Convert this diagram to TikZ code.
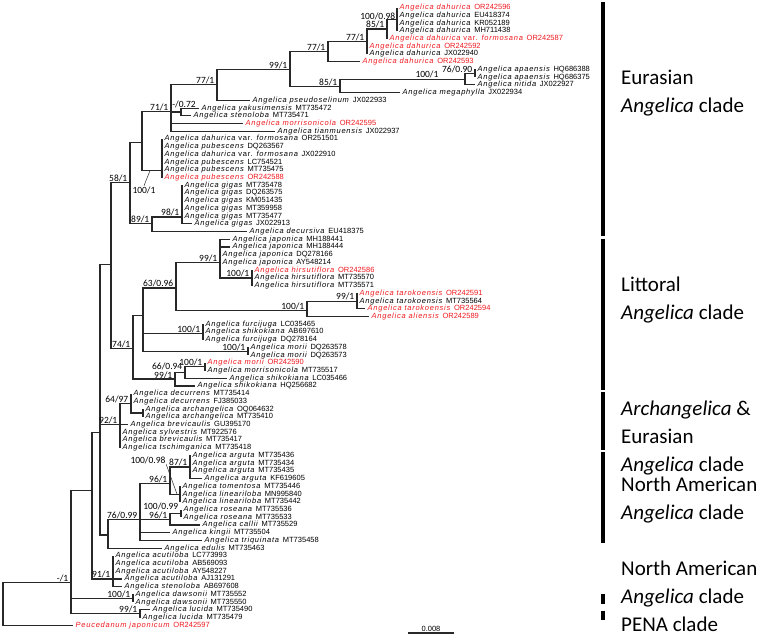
\documentclass[tikz,border=0pt]{standalone}
\usepackage{fontspec}
\setmainfont{Liberation Sans}
\newfontfamily\spfont{Liberation Sans}[LetterSpace=10]
\newfontfamily\bsfont{Carlito}
\usetikzlibrary{positioning, calc}
\definecolor{newseq}{RGB}{240,25,30}
\definecolor{branchgray}{RGB}{40,40,40}
\newcommand{\taxon}[3][Angelica]{{\spfont\itshape #1 #2}\hspace{0.5em}#3}
\tikzset{taxon label/.style={anchor=west, inner xsep=2.5pt, inner ysep=0pt, font=\fontsize{7.5}{8}\selectfont}}
\tikzset{new taxon/.style={taxon label, text=newseq}}
\tikzset{support/.style={anchor=south east, inner sep=0.5pt, xshift=-2pt, font=\bsfont\fontsize{9.5}{10}\selectfont}}
\tikzset{branch/.style={draw=branchgray, line width=1.15pt}}
\tikzset{clade bar/.style={draw=black, line width=3.5pt}}
\tikzset{clade name/.style={anchor=west, align=left, inner sep=0pt, font=\bsfont\fontsize{21}{28}\selectfont}}

\begin{document}
\begin{tikzpicture}[x=1pt, y=-7.72pt]
\useasboundingbox (0,0) rectangle (767,82.38);

% taxa, one row each
\node[new taxon] (t1) at (397,1) {\taxon{dahurica}{OR242596}};
\node[taxon label] (t2) at (397,2) {\taxon{dahurica}{EU418374}};
\node[taxon label] (t3) at (397,3) {\taxon{dahurica}{KR052189}};
\node[taxon label] (t4) at (397,4) {\taxon{dahurica}{MH711438}};
\node[new taxon] (t5) at (387,5) {\taxon{dahurica {\upshape var.} formosana}{OR242587}};
\node[new taxon] (t6) at (367,6) {\taxon{dahurica}{OR242592}};
\node[taxon label] (t7) at (367,7) {\taxon{dahurica}{JX022940}};
\node[new taxon] (t8) at (360,8) {\taxon{dahurica}{OR242593}};
\node[taxon label] (t9) at (475,9) {\taxon{apaensis}{HQ686388}};
\node[taxon label] (t10) at (475,10) {\taxon{apaensis}{HQ686375}};
\node[taxon label] (t11) at (475,11) {\taxon{nitida}{JX022927}};
\node[taxon label] (t12) at (400,12) {\taxon{megaphylla}{JX022934}};
\node[taxon label] (t13) at (250,13) {\taxon{pseudoselinum}{JX022933}};
\node[taxon label] (t14) at (199,14) {\taxon{yakusimensis}{MT735472}};
\node[taxon label] (t15) at (191,15) {\taxon{stenoloba}{MT735471}};
\node[new taxon] (t16) at (243,16) {\taxon{morrisonicola}{OR242595}};
\node[taxon label] (t17) at (275,17) {\taxon{tianmuensis}{JX022937}};
\node[taxon label] (t18) at (162,18) {\taxon{dahurica {\upshape var.} formosana}{OR251501}};
\node[taxon label] (t19) at (162,19) {\taxon{pubescens}{DQ263567}};
\node[taxon label] (t20) at (162,20) {\taxon{dahurica {\upshape var.} formosana}{JX022910}};
\node[taxon label] (t21) at (162,21) {\taxon{pubescens}{LC754521}};
\node[taxon label] (t22) at (162,22) {\taxon{pubescens}{MT735475}};
\node[new taxon] (t23) at (162,23) {\taxon{pubescens}{OR242588}};
\node[taxon label] (t24) at (182,24) {\taxon{gigas}{MT735478}};
\node[taxon label] (t25) at (182,25) {\taxon{gigas}{DQ263575}};
\node[taxon label] (t26) at (182,26) {\taxon{gigas}{KM051435}};
\node[taxon label] (t27) at (182,27) {\taxon{gigas}{MT359958}};
\node[taxon label] (t28) at (182,28) {\taxon{gigas}{MT735477}};
\node[taxon label] (t29) at (192,29) {\taxon{gigas}{JX022913}};
\node[taxon label] (t30) at (247,30) {\taxon{decursiva}{EU418375}};
\node[taxon label] (t31) at (230,31) {\taxon{japonica}{MH188441}};
\node[taxon label] (t32) at (230,32) {\taxon{japonica}{MH188444}};
\node[taxon label] (t33) at (220,33) {\taxon{japonica}{DQ278166}};
\node[taxon label] (t34) at (220,34) {\taxon{japonica}{AY548214}};
\node[new taxon] (t35) at (252,35) {\taxon{hirsutiflora}{OR242586}};
\node[taxon label] (t36) at (252,36) {\taxon{hirsutiflora}{MT735570}};
\node[taxon label] (t37) at (252,37) {\taxon{hirsutiflora}{MT735571}};
\node[new taxon] (t38) at (357,38) {\taxon{tarokoensis}{OR242591}};
\node[taxon label] (t39) at (357,39) {\taxon{tarokoensis}{MT735564}};
\node[new taxon] (t40) at (365,40) {\taxon{tarokoensis}{OR242594}};
\node[new taxon] (t41) at (369,41) {\taxon{aliensis}{OR242589}};
\node[taxon label] (t42) at (203,42) {\taxon{furcijuga}{LC035465}};
\node[taxon label] (t43) at (203,43) {\taxon{shikokiana}{AB697610}};
\node[taxon label] (t44) at (203,44) {\taxon{furcijuga}{DQ278164}};
\node[taxon label] (t45) at (248,45) {\taxon{morii}{DQ263578}};
\node[taxon label] (t46) at (248,46) {\taxon{morii}{DQ263573}};
\node[new taxon] (t47) at (205,47) {\taxon{morii}{OR242590}};
\node[taxon label] (t48) at (205,48) {\taxon{morrisonicola}{MT735517}};
\node[taxon label] (t49) at (227,49) {\taxon{shikokiana}{LC035466}};
\node[taxon label] (t50) at (195,50) {\taxon{shikokiana}{HQ256682}};
\node[taxon label] (t51) at (131,51) {\taxon{decurrens}{MT735414}};
\node[taxon label] (t52) at (131,52) {\taxon{decurrens}{FJ385033}};
\node[taxon label] (t53) at (143,53) {\taxon{archangelica}{OQ064632}};
\node[taxon label] (t54) at (143,54) {\taxon{archangelica}{MT735410}};
\node[taxon label] (t55) at (128,55) {\taxon{brevicaulis}{GU395170}};
\node[taxon label] (t56) at (120,56) {\taxon{sylvestris}{MT922576}};
\node[taxon label] (t57) at (120,57) {\taxon{brevicaulis}{MT735417}};
\node[taxon label] (t58) at (120,58) {\taxon{tschimganica}{MT735418}};
\node[taxon label] (t59) at (190,59) {\taxon{arguta}{MT735436}};
\node[taxon label] (t60) at (190,60) {\taxon{arguta}{MT735434}};
\node[taxon label] (t61) at (190,61) {\taxon{arguta}{MT735435}};
\node[taxon label] (t62) at (202,62) {\taxon{arguta}{KF619605}};
\node[taxon label] (t63) at (180,63) {\taxon{tomentosa}{MT735446}};
\node[taxon label] (t64) at (180,64) {\taxon{lineariloba}{MN995840}};
\node[taxon label] (t65) at (180,65) {\taxon{lineariloba}{MT735442}};
\node[taxon label] (t66) at (181,66) {\taxon{roseana}{MT735536}};
\node[taxon label] (t67) at (181,67) {\taxon{roseana}{MT735533}};
\node[taxon label] (t68) at (200,68) {\taxon{callii}{MT735529}};
\node[taxon label] (t69) at (170,69) {\taxon{kingii}{MT735504}};
\node[taxon label] (t70) at (202,70) {\taxon{triquinata}{MT735458}};
\node[taxon label] (t71) at (162,71) {\taxon{edulis}{MT735463}};
\node[taxon label] (t72) at (113,72) {\taxon{acutiloba}{LC773993}};
\node[taxon label] (t73) at (113,73) {\taxon{acutiloba}{AB569093}};
\node[taxon label] (t74) at (113,74) {\taxon{acutiloba}{AY548227}};
\node[taxon label] (t75) at (122,75) {\taxon{acutiloba}{AJ131291}};
\node[taxon label] (t76) at (122,76) {\taxon{stenoloba}{AB697608}};
\node[taxon label] (t77) at (133,77) {\taxon{dawsonii}{MT735552}};
\node[taxon label] (t78) at (133,78) {\taxon{dawsonii}{MT735550}};
\node[taxon label] (t79) at (150,79) {\taxon{lucida}{MT735490}};
\node[taxon label] (t80) at (140,80) {\taxon{lucida}{MT735479}};
\node[new taxon] (t81) at (73,81) {\taxon[Peucedanum]{japonicum}{OR242597}};

% inner nodes
\coordinate (dahA) at (397,2.5);
\coordinate (dahB) at (387,3.75);
\coordinate (dahC) at (367,5.4);
\coordinate (dahD) at (328,6.7);
\coordinate (apaA) at (475,9.5);
\coordinate (apaB) at (465,10.25);
\coordinate (apaC) at (340,11.2);
\coordinate (dahE) at (290,9);
\coordinate (dahF) at (217,11);
\coordinate (yak) at (181,14.5);
\coordinate (eurA) at (171,14.4);
\coordinate (pub) at (162,22.1);
\coordinate (eurB) at (142,18.5);
\coordinate (gig) at (182,28.1);
\coordinate (gigB) at (152,28.9);
\coordinate (eurasian) at (130,23.6);
\coordinate (hir) at (252,36);
\coordinate (jap) at (220,34);
\coordinate (tar) at (357,39);
\coordinate (tarB) at (307,40.2);
\coordinate (litA) at (176,37.3);
\coordinate (furc) at (203,43.2);
\coordinate (mor) at (248,45.5);
\coordinate (litB) at (143,40.9);
\coordinate (morB) at (205,47.5);
\coordinate (shiA) at (185,48.3);
\coordinate (shiB) at (175,49.1);
\coordinate (littoral) at (133,45.1);
\coordinate (asia) at (111,34.3);
\coordinate (arch) at (143,53.5);
\coordinate (dec) at (131,52.3);
\coordinate (archangelica) at (120,55);
\coordinate (arg) at (190,60.5);
\coordinate (lin) at (180,64);
\coordinate (argB) at (170,62.6);
\coordinate (ros) at (181,66.5);
\coordinate (rosB) at (170,67.3);
\coordinate (namerica) at (140,67.3);
\coordinate (edu) at (108,69.3);
\coordinate (core) at (100,56);
\coordinate (acu) at (113,75);
\coordinate (coreB) at (92,63.5);
\coordinate (daw) at (133,77.5);
\coordinate (luc) at (140,79.5);
\coordinate (angelica) at (71,75.5);
\coordinate (root) at (3,78.25);

% branches
\draw[branch] (dahA) |- (t1) (dahA) |- (t2) (dahA) |- (t3) (dahA) |- (t4);
\draw[branch] (dahB) |- (dahA) (dahB) |- (t5);
\draw[branch] (dahC) |- (dahB) (dahC) |- (t6) (dahC) |- (t7);
\draw[branch] (dahD) |- (dahC) (dahD) |- (t8);
\draw[branch] (apaA) |- (t9) (apaA) |- (t10);
\draw[branch] (apaB) |- (apaA) (apaB) |- (t11);
\draw[branch] (apaC) |- (apaB) (apaC) |- (t12);
\draw[branch] (dahE) |- (dahD) (dahE) |- (apaC);
\draw[branch] (dahF) |- (dahE) (dahF) |- (t13);
\draw[branch] (yak) |- (t14) (yak) |- (t15);
\draw[branch] (eurA) |- (dahF) (eurA) |- (yak) (eurA) |- (t16) (eurA) |- (t17);
\draw[branch] (pub) |- (t18) (pub) |- (t23);
\draw[branch] (eurB) |- (eurA) (eurB) |- (pub);
\draw[branch] (gig) |- (t24) (gig) |- (t28) (gig) |- (t29);
\draw[branch] (gigB) |- (gig) (gigB) |- (t30);
\draw[branch] (eurasian) |- (eurB) (eurasian) |- (gigB);
\draw[branch] (hir) |- (t35) (hir) |- (t37);
\draw[branch] (jap) |- (t31) (jap) |- (t32) (jap) |- (t34) (jap) |- (hir);
\draw[branch] (tar) |- (t38) (tar) |- (t39) (tar) |- (t40);
\draw[branch] (tarB) |- (tar) (tarB) |- (t41);
\draw[branch] (litA) |- (jap) (litA) |- (tarB);
\draw[branch] (furc) |- (t42) (furc) |- (t44);
\draw[branch] (mor) |- (t45) (mor) |- (t46);
\draw[branch] (litB) |- (litA) (litB) |- (furc) (litB) |- (mor);
\draw[branch] (morB) |- (t47) (morB) |- (t48);
\draw[branch] (shiA) |- (morB) (shiA) |- (t49);
\draw[branch] (shiB) |- (shiA) (shiB) |- (t50);
\draw[branch] (littoral) |- (litB) (littoral) |- (shiB);
\draw[branch] (asia) |- (eurasian) (asia) |- (littoral);
\draw[branch] (arch) |- (t53) (arch) |- (t54);
\draw[branch] (dec) |- (t51) (dec) |- (arch);
\draw[branch] (archangelica) |- (dec) (archangelica) |- (t55) (archangelica) |- (t58);
\draw[branch] (arg) |- (t59) (arg) |- (t62);
\draw[branch] (lin) |- (t63) (lin) |- (t65);
\draw[branch] (argB) |- (arg) (argB) |- (lin);
\draw[branch] (ros) |- (t66) (ros) |- (t67);
\draw[branch] (rosB) |- (ros) (rosB) |- (t68);
\draw[branch] (namerica) |- (argB) (namerica) |- (rosB) (namerica) |- (t69) (namerica) |- (t70);
\draw[branch] (edu) |- (namerica) (edu) |- (t71);
\draw[branch] (core) |- (asia) (core) |- (archangelica) (core) |- (edu);
\draw[branch] (acu) |- (t72) (acu) |- (t75) (acu) |- (t76);
\draw[branch] (coreB) |- (core) (coreB) |- (acu);
\draw[branch] (daw) |- (t77) (daw) |- (t78);
\draw[branch] (luc) |- (t79) (luc) |- (t80);
\draw[branch] (angelica) |- (coreB) (angelica) |- (daw) (angelica) |- (luc);
\draw[branch] (root) |- (angelica) (root) |- (t81);

% support values
\node[support, anchor=east] (sdahA) at (398,2.1) {100/0.98};
\node[support] (sdahB) at (dahB) {85/1};
\node[support] (sdahC) at (dahC) {77/1};
\node[support] (sdahD) at (dahD) {77/1};
\node[support] (sapaA) at (apaA) {76/0.90};
\node[support, anchor=center] (sapaB) at (429,9.7) {100/1};
\node[support] (sapaC) at (apaC) {85/1};
\node[support] (sdahE) at (dahE) {99/1};
\node[support] (sdahF) at (dahF) {77/1};
\node[support, anchor=center] (syak) at (186,13.5) {-/0.72};
\node[support] (seurA) at (eurA) {71/1};
\node[support, anchor=center] (spub) at (146,24.6) {100/1};
\draw[branchgray, line width=0.5pt] (spub.north) -- ([xshift=-12pt]pub);
\node[support] (seurasian) at (eurasian) {58/1};
\node[support] (sgig) at (gig) {98/1};
\node[support] (sgigB) at (gigB) {89/1};
\node[support] (sjap) at (jap) {99/1};
\node[support] (shir) at (hir) {100/1};
\node[support] (slitA) at (litA) {63/0.96};
\node[support] (star) at (tar) {99/1};
\node[support] (starB) at (tarB) {100/1};
\node[support] (sfurc) at (furc) {100/1};
\node[support] (smor) at (mor) {100/1};
\node[support] (slittoral) at (littoral) {74/1};
\node[support] (smorB) at (morB) {100/1};
\node[support, yshift=2pt] (sshiA) at (shiA) {66/0.94};
\node[support, yshift=-0.5pt] (sshiB) at (shiB) {99/1};
\node[support] (sdec) at (dec) {64/97};
\node[support] (sarchangelica) at (archangelica) {92/1};
\node[support, anchor=center] (slin) at (150,59.6) {100/0.98};
\draw[branchgray, line width=0.5pt] (slin.south east) -- ([xshift=-3pt]lin);
\node[support] (sarg) at (arg) {87/1};
\node[support] (sargB) at (argB) {96/1};
\node[support, yshift=2.5pt] (sros) at (ros) {100/0.99};
\node[support, yshift=-0.5pt] (srosB) at (rosB) {96/1};
\node[support] (snamerica) at (namerica) {76/0.99};
\node[support] (sacu) at (acu) {91/1};
\node[support] (sdaw) at (daw) {100/1};
\node[support] (sluc) at (luc) {99/1};
\node[support] (sangelica) at (angelica) {-/1};

% clades
\draw[clade bar] (603,0.3) -- (603,30.6);
\draw[clade bar] (603,30.9) -- (603,50.5);
\draw[clade bar] (603,50.8) -- (603,58.3);
\draw[clade bar] (603,58.6) -- (603,70.3);
\draw[clade bar] (603,76.9) -- (603,78.3);
\draw[clade bar] (603,79.1) -- (603,80.3);
\node[clade name] (ceurasian) at (621,12.1) {Eurasian\\\textit{Angelica} clade};
\node[clade name] (clittoral) at (621,38.9) {Littoral\\\textit{Angelica} clade};
\node[clade name] (carch) at (621,56.7) {\textit{Archangelica} \&\\Eurasian\\\textit{Angelica} clade};
\node[clade name] (cnamerica) at (621,64.8) {North American\\\textit{Angelica} clade};
\node[clade name] (cpena) at (621,77.3) {North American\\\textit{Angelica} clade\\PENA clade};

% scale
\coordinate (scaleL) at (408,82);
\coordinate (scaleR) at (454,82);
\draw[branch] (scaleL) -- (scaleR);
\node[font=\fontsize{7.5}{8}\selectfont, above=0.5pt of $(scaleL)!0.5!(scaleR)$, inner sep=0.5pt] (scalelabel) {0.008};
\end{tikzpicture}
\end{document}
